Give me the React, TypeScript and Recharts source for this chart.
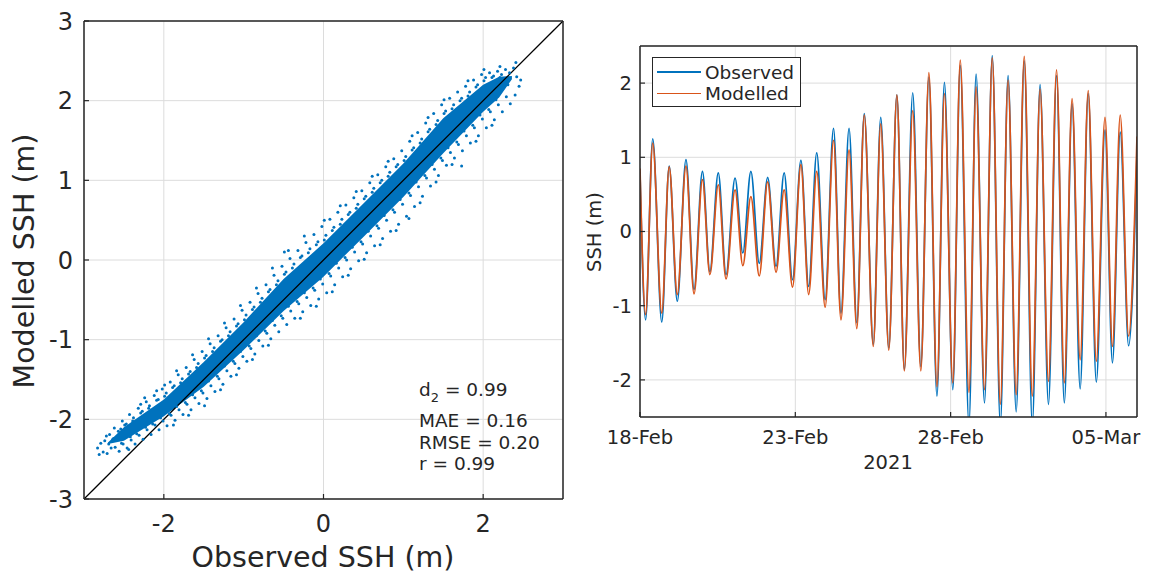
import React from 'react';
import {
  ComposedChart,
  LineChart,
  Line,
  Area,
  Scatter,
  XAxis,
  YAxis,
  CartesianGrid,
  ReferenceLine,
} from 'recharts';

const FONT = '"DejaVu Sans", sans-serif';
const INK = '#262626';
const BLUE = '#0072BD';
const ORANGE = '#D95319';
const GRID = '#dcdcdc';

// ---- left panel: observed vs modelled scatter ----
const scatterXTicks = [-2, 0, 2];
const scatterYTicks = [-3, -2, -1, 0, 1, 2, 3];

// dense core of the cloud
const coreX = [-2.7, -2.5, -2.0, -1.5, -1.0, -0.5, 0, 0.5, 1.0, 1.5, 2.0, 2.2, 2.36];
const coreLo = [-2.31, -2.27, -1.96, -1.59, -1.13, -0.64, -0.21, 0.29, 0.79, 1.34, 1.86, 2.04, 2.27];
const coreHi = [-2.29, -2.1, -1.75, -1.28, -0.78, -0.24, 0.21, 0.71, 1.21, 1.78, 2.2, 2.3, 2.31];

// scattered points on the fringe of the cloud
const scatterPoints = [
  [-2.83, -2.36], [-2.79, -2.3], [-2.76, -2.41], [-2.81, -2.44], [-2.74, -2.27],
  [-2.72, -2.21], [-2.68, -2.19], [-2.66, -2.36], [-2.71, -2.43], [-2.64, -2.25], [-2.69, -2.31],
  [-2.62, -2.11], [-2.57, -2.15], [-2.61, -2.35], [-2.56, -2.4], [-2.63, -2.24],
  [-2.52, -2.02], [-2.47, -2.06], [-2.51, -2.31], [-2.46, -2.36], [-2.54, -2.12],
  [-2.43, -1.94], [-2.38, -1.98], [-2.41, -2.26], [-2.36, -2.31], [-2.44, -2.38],
  [-2.32, -1.86], [-2.27, -1.9], [-2.31, -2.2], [-2.26, -2.25], [-2.29, -1.81],
  [-2.22, -1.78], [-2.18, -1.83], [-2.21, -2.13], [-2.16, -2.19], [-2.24, -1.73],
  [-2.12, -1.7], [-2.07, -1.75], [-2.11, -2.07], [-2.06, -2.13], [-2.09, -1.64],
  [-2.02, -1.62], [-1.97, -1.67], [-2.01, -2.02], [-1.96, -2.08], [-1.99, -1.57],
  [-1.92, -1.53], [-1.87, -1.58], [-1.91, -1.95], [-1.86, -2.01], [-1.88, -2.07],
  [-1.82, -1.44], [-1.77, -1.49], [-1.81, -1.88], [-1.76, -1.94], [-1.84, -1.39],
  [-1.72, -1.35], [-1.67, -1.4], [-1.71, -1.81], [-1.66, -1.88], [-1.69, -1.95],
  [-1.62, -1.25], [-1.57, -1.3], [-1.61, -1.73], [-1.56, -1.8], [-1.64, -1.19],
  [-1.52, -1.15], [-1.47, -1.2], [-1.51, -1.67], [-1.46, -1.74], [-1.49, -1.83],
  [-1.42, -1.05], [-1.37, -1.1], [-1.41, -1.58], [-1.36, -1.65], [-1.44, -0.99],
  [-1.32, -0.95], [-1.27, -1.0], [-1.31, -1.49], [-1.26, -1.56], [-1.29, -1.63],
  [-1.22, -0.85], [-1.17, -0.9], [-1.21, -1.39], [-1.16, -1.46], [-1.24, -0.79],
  [-1.12, -0.74], [-1.07, -0.8], [-1.11, -1.3], [-1.06, -1.36], [-1.09, -1.44],
  [-1.02, -0.63], [-0.97, -0.69], [-1.01, -1.21], [-0.96, -1.27], [-1.04, -0.57],
  [-0.92, -0.53], [-0.87, -0.59], [-0.91, -1.11], [-0.86, -1.18], [-0.89, -1.25],
  [-0.82, -0.42], [-0.77, -0.48], [-0.81, -1.01], [-0.76, -1.08], [-0.84, -0.35],
  [-0.72, -0.31], [-0.67, -0.37], [-0.71, -0.92], [-0.66, -0.99], [-0.69, -1.07],
  [-0.62, -0.19], [-0.57, -0.26], [-0.61, -0.82], [-0.56, -0.9], [-0.64, -0.1],
  [-0.52, -0.08], [-0.47, -0.15], [-0.51, -0.73], [-0.46, -0.81], [-0.49, 0.1],
  [-0.42, 0.02], [-0.37, -0.05], [-0.41, -0.64], [-0.36, -0.73], [-0.44, 0.12],
  [-0.32, 0.12], [-0.27, 0.05], [-0.31, -0.55], [-0.26, -0.65], [-0.29, -0.73],
  [-0.22, 0.22], [-0.17, 0.14], [-0.21, -0.47], [-0.16, -0.57], [-0.24, 0.3],
  [-0.12, 0.32], [-0.07, 0.23], [-0.11, -0.38], [-0.06, -0.49], [-0.09, -0.58],
  [-0.02, 0.42], [0.03, 0.31], [-0.01, -0.3], [0.04, -0.41], [0.01, 0.5],
  [0.08, 0.51], [0.13, 0.41], [0.09, -0.2], [0.14, -0.31], [0.11, -0.4],
  [0.18, 0.6], [0.23, 0.51], [0.19, -0.1], [0.24, -0.21], [0.21, 0.68],
  [0.28, 0.69], [0.33, 0.6], [0.29, 0.0], [0.34, -0.11], [0.31, -0.19],
  [0.38, 0.78], [0.43, 0.7], [0.39, 0.1], [0.44, -0.01], [0.41, 0.86],
  [0.48, 0.87], [0.53, 0.8], [0.49, 0.2], [0.54, 0.09], [0.51, 0.01],
  [0.58, 0.97], [0.63, 0.9], [0.59, 0.3], [0.64, 0.18], [0.61, 1.05],
  [0.68, 1.07], [0.73, 1.0], [0.69, 0.4], [0.74, 0.27], [0.71, 0.19],
  [0.78, 1.17], [0.83, 1.1], [0.79, 0.5], [0.84, 0.36], [0.81, 1.24],
  [0.88, 1.27], [0.93, 1.2], [0.89, 0.6], [0.94, 0.45], [0.91, 0.37],
  [0.98, 1.37], [1.03, 1.3], [0.99, 0.7], [1.04, 0.55], [1.07, 0.52],
  [1.08, 1.49], [1.13, 1.41], [1.09, 0.81], [1.14, 0.67], [1.11, 1.56],
  [1.18, 1.6], [1.23, 1.52], [1.19, 0.92], [1.24, 0.8], [1.21, 0.72],
  [1.28, 1.72], [1.33, 1.64], [1.29, 1.03], [1.34, 0.93], [1.31, 1.79],
  [1.38, 1.84], [1.43, 1.75], [1.39, 1.14], [1.44, 1.06], [1.41, 0.98],
  [1.48, 1.95], [1.53, 1.87], [1.49, 1.25], [1.54, 1.19], [1.51, 2.01],
  [1.58, 2.03], [1.63, 1.95], [1.59, 1.35], [1.64, 1.28], [1.61, 1.2],
  [1.68, 2.11], [1.73, 2.03], [1.69, 1.45], [1.74, 1.37], [1.73, 1.18],
  [1.78, 2.18], [1.83, 2.11], [1.79, 1.56], [1.84, 1.47], [1.81, 2.25],
  [1.88, 2.26], [1.93, 2.2], [1.89, 1.66], [1.94, 1.56], [1.91, 1.49],
  [1.98, 2.33], [2.03, 2.29], [1.99, 1.77], [2.04, 1.66], [2.01, 2.39],
  [2.08, 2.35], [2.13, 2.31], [2.09, 1.86], [2.14, 1.76], [2.11, 1.69],
  [2.18, 2.37], [2.23, 2.33], [2.19, 1.95], [2.24, 1.86], [2.21, 2.43],
  [2.28, 2.39], [2.33, 2.35], [2.29, 2.05], [2.34, 1.96], [2.31, 2.2],
  [2.38, 2.41], [2.42, 2.3], [2.45, 2.18], [2.4, 2.07], [2.47, 2.26], [2.41, 2.48],
  // points hugging the edge of the dense core
  [-2.49, -2.07], [-2.53, -2.3], [-2.39, -2.02], [-2.42, -2.22], [-2.29, -1.92], [-2.34, -2.18],
  [-2.19, -1.86], [-2.23, -2.1], [-2.09, -1.76], [-2.14, -2.06], [-1.99, -1.71], [-2.04, -1.98],
  [-1.89, -1.6], [-1.93, -1.93], [-1.79, -1.54], [-1.84, -1.84], [-1.69, -1.43], [-1.73, -1.79],
  [-1.59, -1.35], [-1.64, -1.69], [-1.49, -1.23], [-1.53, -1.64], [-1.39, -1.15], [-1.44, -1.52],
  [-1.29, -1.02], [-1.33, -1.46], [-1.19, -0.95], [-1.24, -1.33], [-1.09, -0.83], [-1.13, -1.27],
  [-0.99, -0.75], [-1.04, -1.15], [-0.89, -0.62], [-0.93, -1.08], [-0.79, -0.53], [-0.84, -0.95],
  [-0.69, -0.4], [-0.73, -0.89], [-0.59, -0.31], [-0.64, -0.76], [-0.49, -0.18], [-0.53, -0.7],
  [-0.39, -0.1], [-0.44, -0.58], [-0.29, 0.03], [-0.33, -0.52], [-0.19, 0.09], [-0.24, -0.41],
  [-0.09, 0.19], [-0.13, -0.35], [0.01, 0.25], [-0.04, -0.24], [0.11, 0.37], [0.07, -0.17],
  [0.21, 0.45], [0.16, -0.04], [0.31, 0.57], [0.27, 0.03], [0.41, 0.65], [0.36, 0.16],
  [0.51, 0.77], [0.47, 0.23], [0.61, 0.85], [0.56, 0.36], [0.71, 0.97], [0.67, 0.43],
  [0.81, 1.05], [0.76, 0.56], [0.91, 1.17], [0.87, 0.63], [1.01, 1.25], [0.96, 0.76],
  [1.11, 1.38], [1.07, 0.84], [1.21, 1.47], [1.16, 0.98], [1.31, 1.61], [1.27, 1.06],
  [1.41, 1.7], [1.36, 1.2], [1.51, 1.84], [1.47, 1.28], [1.61, 1.9], [1.56, 1.41],
  [1.71, 2.0], [1.67, 1.48], [1.81, 2.06], [1.76, 1.62], [1.91, 2.17], [1.87, 1.69],
  [2.01, 2.25], [1.96, 1.82], [2.11, 2.29], [2.07, 1.89], [2.21, 2.29], [2.16, 2.01],
];

const statLines = [
  { name: 'MAE', value: '0.16' },
  { name: 'RMSE', value: '0.20' },
  { name: 'r', value: '0.99' },
];
const d2Value = '0.99';

// ---- right panel: tide time series (days since 18-Feb-2021) ----
const tideDays = [
  0, 0.18, 0.41, 0.7, 0.94, 1.2, 1.48, 1.74, 2.01, 2.25, 2.52, 2.77, 3.06, 3.31, 3.57, 3.84,
  4.11, 4.38, 4.64, 4.91, 5.18, 5.43, 5.69, 5.96, 6.23, 6.47, 6.73, 6.98, 7.22, 7.51, 7.75,
  8.01, 8.27, 8.51, 8.78, 9.04, 9.3, 9.56, 9.8, 10.07, 10.31, 10.59, 10.82, 11.09, 11.34,
  11.6, 11.85, 12.11, 12.37, 12.63, 12.88, 13.15, 13.41, 13.66, 13.91, 14.17, 14.43, 14.69,
  14.97, 15.21, 15.46, 15.73, 16.0,
];
const observedSSH = [
  0.8, -1.19, 1.25, -1.22, 0.88, -0.94, 0.97, -0.78, 0.81, -0.54, 0.79, -0.58, 0.72, -0.29,
  0.81, -0.43, 0.73, -0.47, 0.79, -0.65, 0.96, -0.74, 1.06, -0.92, 1.39, -1.1, 1.39, -1.23,
  1.59, -1.52, 1.54, -1.57, 1.84, -1.86, 1.87, -1.82, 2.08, -2.22, 2.01, -2.13, 2.24, -2.6,
  2.12, -2.31, 2.37, -2.6, 2.1, -2.43, 2.3, -2.6, 1.98, -2.33, 2.1, -2.31, 1.72, -2.12, 1.86,
  -2.03, 1.37, -1.77, 1.34, -1.54, 1.05,
];
const modelledSSH = [
  0.85, -1.12, 1.19, -1.1, 0.87, -0.85, 0.88, -0.84, 0.7, -0.58, 0.63, -0.64, 0.56, -0.46,
  0.47, -0.6, 0.67, -0.55, 0.56, -0.75, 0.9, -0.85, 0.81, -1.02, 1.23, -1.19, 1.1, -1.31,
  1.57, -1.55, 1.45, -1.6, 1.84, -1.88, 1.63, -1.88, 2.14, -2.09, 1.86, -2.04, 2.31, -2.17,
  1.95, -2.13, 2.34, -2.33, 2.04, -2.2, 2.36, -2.22, 1.92, -2.02, 2.18, -2.04, 1.79, -1.73,
  1.9, -1.75, 1.54, -1.55, 1.57, -1.41, 1.28,
];
const timeTicks = [0, 5, 10, 15];
const timeTickLabels = ['18-Feb', '23-Feb', '28-Feb', '05-Mar'];
const sshTicks = [-2, -1, 0, 1, 2];

const coreRows = coreX.map((x, i) => ({ x, band: [coreLo[i], coreHi[i]] }));
const pointRows = scatterPoints.map(([x, y]) => ({ x, y }));
const tideRows = tideDays.map((t, i) => ({ t, obs: observedSSH[i], mod: modelledSSH[i] }));

const axisLine = { stroke: INK, strokeWidth: 1.5 };
const tickLine = { stroke: INK, strokeWidth: 1.2 };

const Dot = (p: any) => <circle cx={p.cx} cy={p.cy} r={1.5} fill={BLUE} />;

const abs = (left: number, top: number, extra: React.CSSProperties = {}): React.CSSProperties => ({
  position: 'absolute',
  left,
  top,
  fontFamily: FONT,
  color: INK,
  whiteSpace: 'nowrap',
  lineHeight: 1,
  ...extra,
});

export default function App() {
  const bigTick = { fill: INK, fontSize: 24, fontFamily: FONT };
  const smallTick = { fill: INK, fontSize: 19.5, fontFamily: FONT };
  return (
    <div style={{ position: 'absolute', left: 0, top: 0, width: 1151, height: 577, background: '#fff' }}>
      <div style={{ position: 'absolute', left: 0, top: 0 }}>
        <ComposedChart width={580} height={577} data={coreRows} margin={{ top: 20, right: 16, bottom: 38, left: 24 }}>
          <CartesianGrid stroke={GRID} strokeWidth={1} />
          <XAxis type="number" dataKey="x" domain={[-3, 3]} ticks={scatterXTicks} height={40}
            tickSize={-5} tickMargin={21} axisLine={axisLine} tickLine={tickLine} tick={bigTick} allowDataOverflow />
          <XAxis xAxisId="top" orientation="top" type="number" domain={[-3, 3]} ticks={scatterXTicks} height={1}
            tickSize={-5} axisLine={axisLine} tickLine={tickLine} tick={false} allowDataOverflow />
          <YAxis type="number" dataKey="y" domain={[-3, 3]} ticks={scatterYTicks} width={60}
            tickSize={-5} tickMargin={16} axisLine={axisLine} tickLine={tickLine} tick={bigTick} allowDataOverflow />
          <YAxis yAxisId="right" orientation="right" type="number" domain={[-3, 3]} ticks={scatterYTicks} width={1}
            tickSize={-5} axisLine={axisLine} tickLine={tickLine} tick={false} allowDataOverflow />
          <Area type="linear" dataKey="band" stroke="none" fill={BLUE} fillOpacity={1} isAnimationActive={false} />
          <Scatter data={pointRows} fill={BLUE} shape={Dot} isAnimationActive={false} />
          <ReferenceLine segment={[{ x: -3, y: -3 }, { x: 3, y: 3 }]} stroke="#000" strokeWidth={1.3} />
        </ComposedChart>
      </div>

      <div style={abs(323, 558, { fontSize: 28.5, transform: 'translate(-50%, -50%)' })}>Observed SSH (m)</div>
      <div style={abs(25, 261, { fontSize: 28.5, transform: 'translate(-50%, -50%) rotate(-90deg)' })}>Modelled SSH (m)</div>

      <div style={abs(419, 381, { fontSize: 18.5 })}>
        d<sub style={{ fontSize: 13, verticalAlign: -6 }}>2</sub> = {d2Value}
      </div>
      {statLines.map((s, i) => (
        <div key={s.name} style={abs(419, 412 + i * 21.7, { fontSize: 18.5 })}>
          {s.name} = {s.value}
        </div>
      ))}

      <div style={{ position: 'absolute', left: 580, top: 0 }}>
        <LineChart width={571} height={577} data={tideRows} margin={{ top: 45, right: 13, bottom: 120, left: 0 }}>
          <CartesianGrid stroke={GRID} strokeWidth={1} />
          <XAxis type="number" dataKey="t" domain={[0, 16]} ticks={timeTicks} height={40}
            tickFormatter={(v: number) => timeTickLabels[timeTicks.indexOf(v)]}
            tickSize={-5} tickMargin={18} axisLine={axisLine} tickLine={tickLine} tick={smallTick} allowDataOverflow />
          <XAxis xAxisId="top" orientation="top" type="number" domain={[0, 16]} ticks={timeTicks} height={1}
            tickSize={-5} axisLine={axisLine} tickLine={tickLine} tick={false} allowDataOverflow />
          <YAxis type="number" domain={[-2.5, 2.5]} ticks={sshTicks} width={60}
            tickSize={-5} tickMargin={13} axisLine={axisLine} tickLine={tickLine} tick={smallTick} allowDataOverflow />
          <YAxis yAxisId="right" orientation="right" type="number" domain={[-2.5, 2.5]} ticks={sshTicks} width={1}
            tickSize={-5} axisLine={axisLine} tickLine={tickLine} tick={false} allowDataOverflow />
          <Line type="monotone" dataKey="obs" stroke={BLUE} strokeWidth={1.7} dot={false} isAnimationActive={false} />
          <Line type="monotone" dataKey="mod" stroke={ORANGE} strokeWidth={1.7} dot={false} isAnimationActive={false} />
        </LineChart>
      </div>

      <div style={abs(888, 463, { fontSize: 19.5, transform: 'translate(-50%, -50%)' })}>2021</div>
      <div style={abs(595, 232, { fontSize: 19.5, transform: 'translate(-50%, -50%) rotate(-90deg)' })}>SSH (m)</div>

      <div style={{ position: 'absolute', left: 652, top: 57, width: 147, height: 48, border: `1.3px solid ${INK}`, background: '#fff' }}>
        {[
          { name: 'Observed', color: BLUE },
          { name: 'Modelled', color: ORANGE },
        ].map((s, i) => (
          <div key={s.name} style={{ position: 'absolute', left: 4, top: 4 + i * 21.6, height: 20, display: 'flex', alignItems: 'center' }}>
            <div style={{ width: 44, height: 1.5, background: s.color }} />
            <span style={{ marginLeft: 4, fontFamily: FONT, fontSize: 18.5, color: INK }}>{s.name}</span>
          </div>
        ))}
      </div>
    </div>
  );
}
